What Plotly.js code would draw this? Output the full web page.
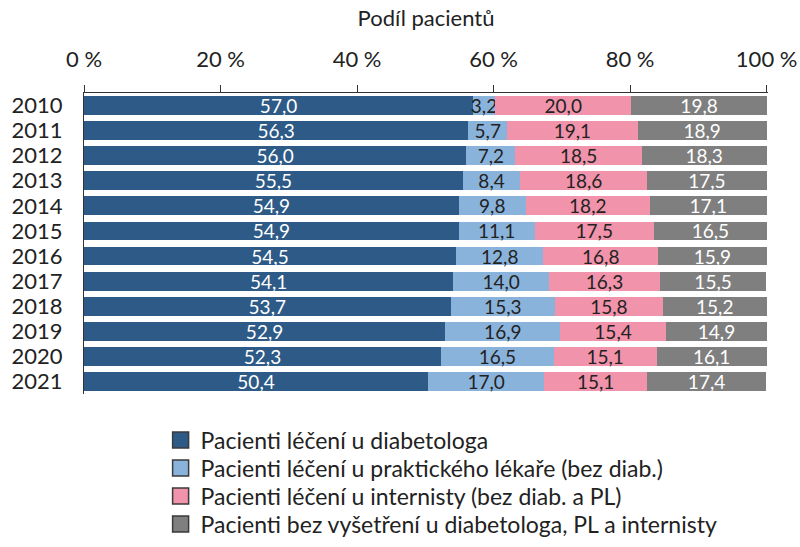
<!DOCTYPE html>
<html>
<head>
<meta charset="utf-8">
<script src="https://cdn.plot.ly/plotly-3.0.1.min.js"></script>
<style>html,body{margin:0;padding:0;background:#fff;}#chart{width:800px;height:547px;}</style>
</head>
<body>
<div id="chart"></div>
<script>
const years = ['2010','2011','2012','2013','2014','2015','2016','2017','2018','2019','2020','2021'];
const diabetolog = [57.0,56.3,56.0,55.5,54.9,54.9,54.5,54.1,53.7,52.9,52.3,50.4];
const praktik = [3.2,5.7,7.2,8.4,9.8,11.1,12.8,14.0,15.3,16.9,16.5,17.0];
const internista = [20.0,19.1,18.5,18.6,18.2,17.5,16.8,16.3,15.8,15.4,15.1,15.1];
const bez = [19.8,18.9,18.3,17.5,17.1,16.5,15.9,15.5,15.2,14.9,16.1,17.4];
const xTickVals = [0,20,40,60,80,100];
const xTickText = ['0 %','20 %','40 %','60 %','80 %','100 %'];
const seriesNames = [
  'Pacienti léčení u diabetologa',
  'Pacienti léčení u praktického lékaře (bez diab.)',
  'Pacienti léčení u internisty (bez diab. a PL)',
  'Pacienti bez vyšetření u diabetologa, PL a internisty'
];
const colors = ['#2d5a86','#8ab3dc','#f093ab','#7f7f7f'];
const textColors = ['#ffffff','#222222','#222222','#ffffff'];
const FONT = 'Lato, "Open Sans", sans-serif';
const fmt = v => v.toFixed(1).replace('.', ',');
const legendIds = ['legend','legend2','legend3','legend4'];

const bars = [diabetolog, praktik, internista, bez].map((vals, i) => ({
  type: 'bar',
  orientation: 'h',
  name: seriesNames[i],
  y: years,
  x: vals,
  text: vals.map(fmt),
  textposition: 'inside',
  insidetextanchor: 'middle',
  textangle: 0,
  constraintext: 'none',
  cliponaxis: false,
  textfont: {family: FONT, size: 19, color: textColors[i]},
  marker: {color: colors[i], line: {width: 0}},
  showlegend: false,
  hoverinfo: 'skip'
}));

// legend-only entries (no data points)
const legendEntries = seriesNames.map((n, i) => ({
  type: 'scatter',
  mode: 'markers',
  name: n,
  x: [null], y: [null],
  marker: {symbol: 'square', size: 16, color: colors[i], line: {color: '#3a3a3a', width: 1.5}},
  legend: legendIds[i],
  showlegend: true,
  hoverinfo: 'skip'
}));

const legendCentersPx = [440, 468, 496, 524];
const plotTop = 93, plotBottom = 394;
const legendBase = {
  orientation: 'v',
  x: 0.112, xanchor: 'left',
  yanchor: 'middle',
  font: {family: FONT, size: 23, color: '#222'},
  itemwidth: 30,
  itemsizing: 'trace',
  bgcolor: 'rgba(0,0,0,0)',
  borderwidth: 0
};

const layout = {
  width: 800, height: 547,
  paper_bgcolor: '#fff', plot_bgcolor: '#fff',
  barmode: 'stack',
  bargap: 0.25,
  margin: {l: 84, r: 32, t: plotTop, b: 547 - plotBottom, autoexpand: false},
  font: {family: FONT, color: '#222', size: 22},
  xaxis: {
    side: 'top',
    range: [0, 100.2],
    tickmode: 'array',
    tickvals: xTickVals,
    ticktext: xTickText,
    ticks: 'outside', ticklen: 7, tickcolor: '#333', tickwidth: 1,
    ticklabelstandoff: 9,
    showline: true, linecolor: '#333', linewidth: 1,
    showgrid: false, zeroline: false,
    tickfont: {family: FONT, size: 22, color: '#222'},
    title: {text: 'Podíl pacientů', font: {family: FONT, size: 22, color: '#222'}, standoff: 12},
    fixedrange: true
  },
  yaxis: {
    type: 'category',
    autorange: 'reversed',
    tickmode: 'array',
    tickvals: years,
    ticktext: years,
    showline: true, linecolor: '#333', linewidth: 1,
    ticks: '', showgrid: false, zeroline: false,
    tickfont: {family: FONT, size: 22, color: '#222'},
    ticklabelstandoff: 16,
    fixedrange: true
  },
  showlegend: true
};
legendIds.forEach((id, i) => {
  layout[id] = Object.assign({}, legendBase, {
    y: (plotBottom - legendCentersPx[i]) / (plotBottom - plotTop)
  });
});

Plotly.newPlot('chart', bars.concat(legendEntries), layout, {displayModeBar: false, staticPlot: true});
</script>
</body>
</html>
